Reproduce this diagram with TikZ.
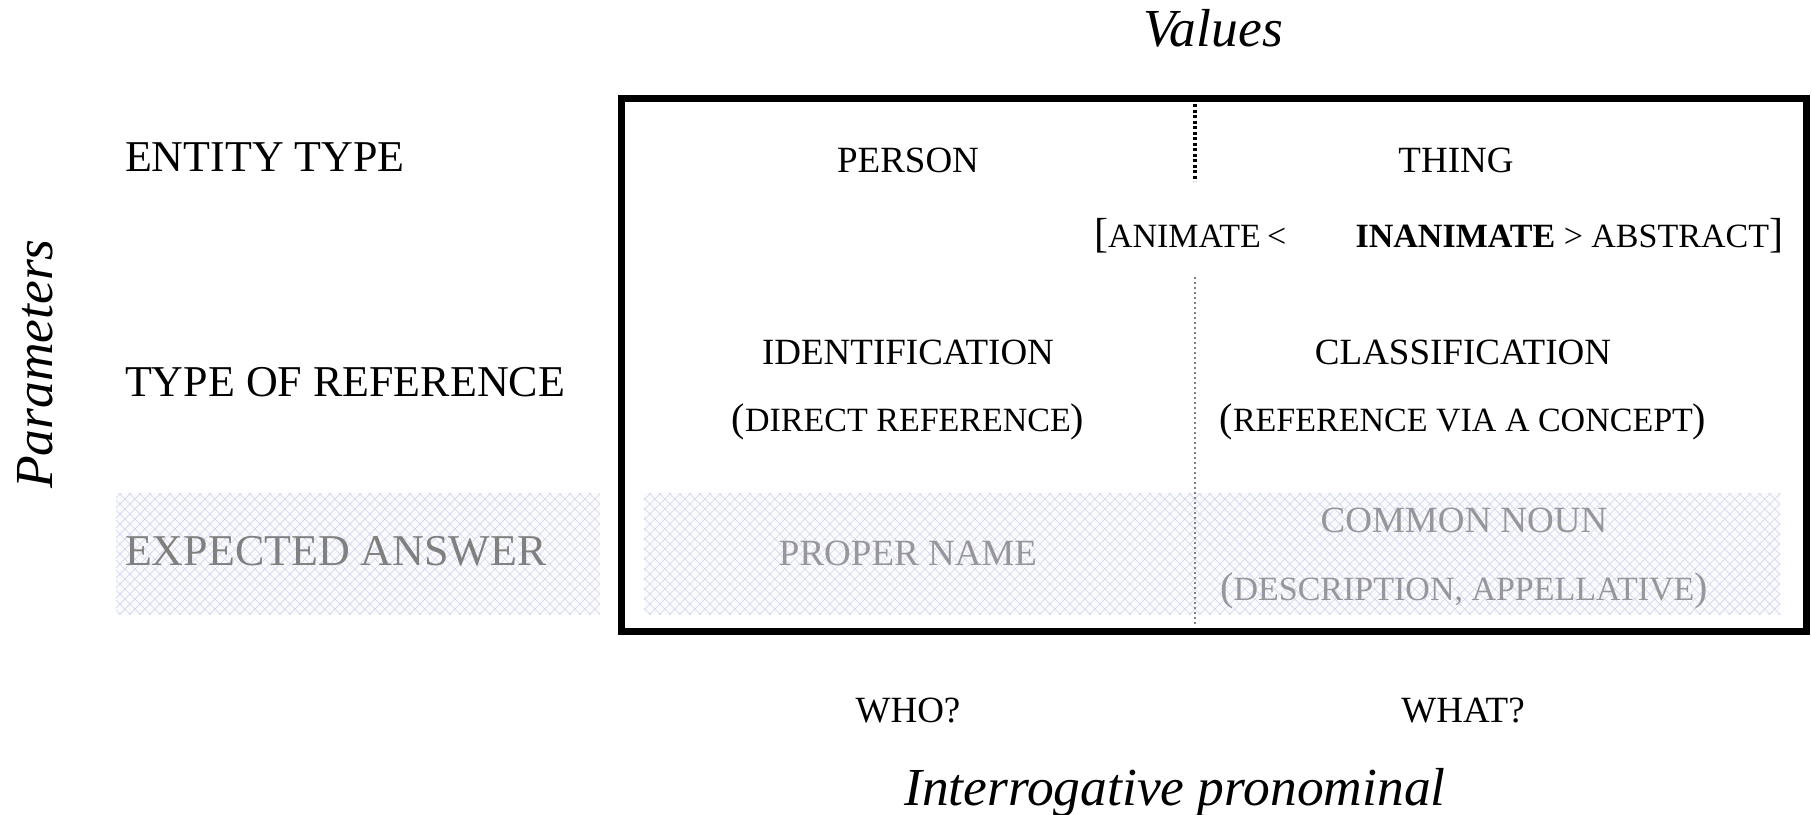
\documentclass[tikz,border=0pt]{standalone}
\usepackage{fontspec}
\setmainfont{Liberation Serif}
\usetikzlibrary{patterns.meta}
\definecolor{hatchcol}{RGB}{212,218,236}
\definecolor{hatchbg}{RGB}{251,251,253}
\definecolor{graytxt}{RGB}{128,128,128}
\definecolor{graytxt2}{RGB}{150,150,155}
\newcommand{\fsz}[1]{\fontsize{#1}{#1}\selectfont}
\tikzset{
  x=1pt,y=1pt,
  txt/.style={inner sep=0pt,outer sep=0pt,anchor=base},
  lbl/.style={txt,font=\fsz{44}},
  cell/.style={txt,font=\fsz{37}},
  grey/.style={text=graytxt},
  axis/.style={txt,font=\fsz{53.5}\itshape},
  hatch/.style={pattern={Lines[angle=45,distance=7.07pt,line width=0.75pt]},
                pattern color=hatchcol},
  hatchb/.style={pattern={Lines[angle=-45,distance=7.07pt,line width=0.75pt]},
                pattern color=hatchcol},
  frame/.style={draw=black,line width=7pt},
  thickdots/.style={draw=black,line width=4pt,dash pattern=on 3pt off 2.5pt},
  thindots/.style={draw=gray,line width=1.4pt,dash pattern=on 2pt off 3pt}
}
\newcommand{\sm}[1]{{\fsz{34}#1}}
\begin{document}
\begin{tikzpicture}
\useasboundingbox (0,0) rectangle (1812,-814);
% hatched bands
\fill[hatchbg] (116,-493) rectangle (600,-614);
\fill[hatch] (116,-493) rectangle (600,-614);
\fill[hatchb] (116,-493) rectangle (600,-614);
\fill[hatchbg] (644,-493) rectangle (1780,-614);
\fill[hatch] (644,-493) rectangle (1780,-614);
\fill[hatchb] (644,-493) rectangle (1780,-614);
% frame
\draw[frame] (621,-98) rectangle (1806,-631);
% divider
\coordinate (d1) at (1195,-104);
\coordinate (d2) at (1195,-181);
\coordinate (d3) at (1195,-277);
\coordinate (d4) at (1195,-626);
\draw[thickdots] (d1) -- (d2);
\draw[thindots] (d3) -- (d4);
% axis titles
\node[axis] (values) at (1213,-46) {Values};
\node[axis] (interr) at (1175,-805) {Interrogative pronominal};
\node[axis,rotate=90] (params) at (52,-364) {Parameters};
% row labels
\node[lbl,anchor=base west] (entity) at (125,-171) {ENTITY TYPE};
\node[lbl,anchor=base west] (typeref) at (125,-396) {TYPE OF REFERENCE};
\node[lbl,anchor=base west,grey] (expans) at (125,-565) {EXPECTED ANSWER};
% cells
\node[cell] (person) at (908,-172) {PERSON};
\node[cell] (thing) at (1456,-172) {THING};
\node[cell,anchor=base west] (anim) at (1094,-247) {{\fsz{42}[}\sm{ANIMATE}\,\sm{<}};
\node[cell,anchor=base east] (inanim) at (1783,-247) {\sm{\textbf{INANIMATE} > ABSTRACT}{\fsz{42}]}};
\node[cell] (ident) at (908,-364) {IDENTIFICATION};
\node[cell] (direct) at (908,-431) {{\fsz{40}(}\sm{DIRECT REFERENCE}{\fsz{40})}};
\node[cell] (classif) at (1463,-364) {CLASSIFICATION};
\node[cell] (concept) at (1463,-431) {{\fsz{40}(}\sm{REFERENCE VIA A CONCEPT}{\fsz{40})}};
\node[cell,text=graytxt2] (proper) at (908,-565) {PROPER NAME};
\node[cell,text=graytxt2] (common) at (1464,-532) {COMMON NOUN};
\node[cell,text=graytxt2] (descr) at (1464,-600) {{\fsz{40}(}\sm{DESCRIPTION, APPELLATIVE}{\fsz{40})}};
\node[cell] (who) at (908,-722) {WHO?};
\node[cell] (what) at (1463,-722) {WHAT?};
\end{tikzpicture}
\end{document}
